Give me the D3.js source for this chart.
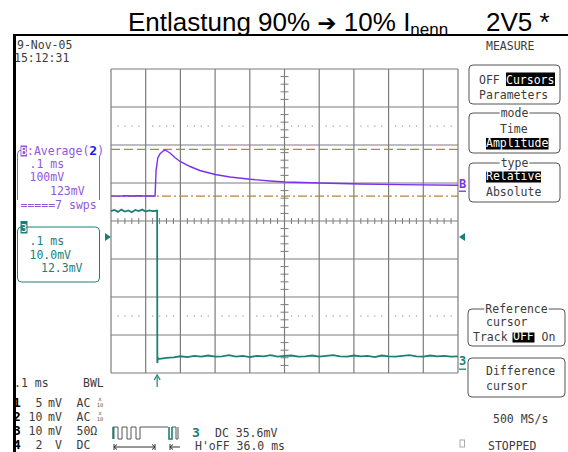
<!DOCTYPE html>
<html>
<head>
<meta charset="utf-8">
<script src="https://cdn.jsdelivr.net/npm/d3@7"></script>
<style>
body { margin: 0; background: #fff; }
text { white-space: pre; }
</style>
</head>
<body>
<div class="chart"></div>
<script>
// trace B (average of ch2), time in ms, level in mV (100 mV/div)
const purpleTime = [0, 0.02, 0.04, 0.06, 0.08, 0.10, 0.12, 0.127, 0.130, 0.135, 0.141, 0.150, 0.156,
  0.170, 0.184, 0.199, 0.228, 0.256, 0.300, 0.343, 0.401, 0.458, 0.501, 0.602, 0.718, 0.833, 1.0];
const purpleMv = [66, 65.4, 66.6, 65.8, 66.4, 65.6, 66.2, 66, 134, 165.8, 176.3, 184.2, 186.8,
  178.9, 167.1, 156.6, 143.4, 132.9, 122.4, 115.8, 109.7, 105.3, 102.6, 100, 97.4, 95.8, 93.9];

// channel 3, time in ms, level in mV (10 mV/div)
const tealTime = [0, 0.01, 0.02, 0.03, 0.04, 0.05, 0.06, 0.07, 0.08, 0.09, 0.10, 0.11, 0.12, 0.13, 0.133,
  0.1335, 0.135, 0.137, 0.14, 0.16, 0.18, 0.20, 0.22, 0.24, 0.26, 0.28, 0.30, 0.32, 0.34, 0.36, 0.38,
  0.40, 0.42, 0.44, 0.46, 0.48, 0.50, 0.52, 0.54, 0.56, 0.58, 0.60, 0.62, 0.64, 0.66, 0.68, 0.70,
  0.72, 0.74, 0.76, 0.78, 0.80, 0.82, 0.84, 0.86, 0.88, 0.90, 0.92, 0.94, 0.96, 0.98, 1.0];
const tealMv = [2.6, 2.9, 2.4, 3.0, 2.5, 2.8, 2.3, 2.9, 2.6, 3.0, 2.5, 2.8, 2.6, 2.7, 2.7,
  -37.4, -36.0, -36.3, -36.3, -36.0, -35.9, -35.6, -35.8, -35.5, -35.7, -35.4, -35.7, -35.6, -35.3, -35.7, -35.5,
  -35.8, -35.5, -35.6, -35.3, -35.7, -35.5, -35.4, -35.7, -35.6, -35.4, -35.7, -35.5, -35.3, -35.6, -35.7, -35.4,
  -35.6, -35.5, -35.8, -35.4, -35.6, -35.7, -35.5, -35.3, -35.6, -35.7, -35.4, -35.6, -35.5, -35.7, -35.6];

// cursor levels on trace B, mV
const cursorMv = [188.6, 65.2];

// menu and status labels
const menuTop = ['OFF', 'Cursors', 'Parameters'];
const modeItems = ['Time', 'Amplitude'];
const typeItems = ['Relative', 'Absolute'];
const chanRows = [
  ['1', ' 5', 'mV', 'AC'],
  ['2', '10', 'mV', 'AC'],
  ['3', '10', 'mV', '50Ω'],
  ['4', ' 2', ' V', 'DC']
];

const purple = '#7a30ec', purpleText = '#9258dc', teal = '#1d8077', brown = '#b8862c';
const grey = '#7c7c7c', ink = '#3c3c3c';
const mono = '"DejaVu Sans Mono", monospace';

let grid = { left: 111, right: 458, top: 69, bottom: 373 };

let svg = d3.select('.chart')
    .append('svg')
    .attr('width', 568)
    .attr('height', 452);

svg.append('rect').attr('width', 568).attr('height', 452).attr('fill', '#fff');

// scales: time and divisions
let x = d3.scaleLinear().domain([0, 1.0]).range([grid.left, grid.right]);
let xDiv = d3.scaleLinear().domain([0, 10]).range([grid.left, grid.right]);
let yDiv = d3.scaleLinear().domain([-4, 4]).range([grid.bottom, grid.top]);
let yB = d3.scaleLinear().domain([-400, 400]).range([grid.bottom, grid.top]);
let y3 = d3.scaleLinear().domain([-40, 40]).range([grid.bottom, grid.top]);

// Title
let title = svg.append('text')
    .attr('x', 128).attr('y', 31)
    .style('font-family', '"Liberation Sans", Arial, sans-serif')
    .style('font-size', '26px')
    .attr('fill', '#000');
title.append('tspan').text('Entlastung 90% ');
title.append('tspan').style('font-family', '"DejaVu Sans"').style('font-weight', 'bold').style('font-size', '23px').text('➔');
title.append('tspan').text(' 10% I');
title.append('tspan').attr('dy', 4).style('font-size', '17px').text('nenn');
svg.append('text')
    .attr('x', 486).attr('y', 31)
    .style('font-family', '"Liberation Sans", Arial, sans-serif')
    .style('font-size', '26px')
    .text('2V5 *');

// frame of the screen shot
svg.append('line').attr('x1', 13).attr('x2', 568).attr('y1', 35).attr('y2', 35)
    .attr('stroke', '#000').attr('stroke-width', 2);
svg.append('line').attr('x1', 14.5).attr('x2', 14.5).attr('y1', 34).attr('y2', 452)
    .attr('stroke', '#000').attr('stroke-width', 3);

// Grid
let g = svg.append('g');
g.selectAll('.vgrid').data(d3.range(0, 11)).enter().append('line')
    .attr('x1', d => xDiv(d)).attr('x2', d => xDiv(d))
    .attr('y1', grid.top).attr('y2', grid.bottom)
    .attr('stroke', grey).attr('stroke-width', 1.2);
g.selectAll('.hgrid').data(d3.range(-4, 5)).enter().append('line')
    .attr('x1', grid.left).attr('x2', grid.right)
    .attr('y1', d => yDiv(d)).attr('y2', d => yDiv(d))
    .attr('stroke', grey).attr('stroke-width', 1.2);

// minor ticks on the centre lines
g.selectAll('.xminor').data(d3.range(1, 50).filter(i => i % 5 !== 0)).enter().append('line')
    .attr('x1', d => xDiv(d / 5)).attr('x2', d => xDiv(d / 5))
    .attr('y1', yDiv(0) - 3).attr('y2', yDiv(0) + 3)
    .attr('stroke', grey);
g.selectAll('.yminor').data(d3.range(-19, 20).filter(i => i % 5 !== 0)).enter().append('line')
    .attr('x1', xDiv(5) - 4).attr('x2', xDiv(5) + 4)
    .attr('y1', d => yDiv(d / 5)).attr('y2', d => yDiv(d / 5))
    .attr('stroke', grey);

// dotted lines at +-2.5 div
[2.5, -2.5].forEach(lv => {
    g.selectAll(null).data(d3.range(1, 50).filter(i => i % 5 !== 0)).enter().append('rect')
        .attr('x', d => xDiv(d / 5) - 0.5).attr('y', yDiv(lv) - 0.5)
        .attr('width', 1.2).attr('height', 1.2)
        .attr('fill', '#9a9a9a');
});

// cursors
g.append('line').attr('x1', grid.left).attr('x2', grid.right)
    .attr('y1', yB(cursorMv[0])).attr('y2', yB(cursorMv[0]))
    .attr('stroke', brown).attr('stroke-width', 1.2).attr('stroke-dasharray', '9,4');
g.append('line').attr('x1', grid.left).attr('x2', grid.right)
    .attr('y1', yB(cursorMv[1])).attr('y2', yB(cursorMv[1]))
    .attr('stroke', brown).attr('stroke-width', 1.2).attr('stroke-dasharray', '9,3,2,3');

// traces
let lineB = d3.line().x((d, i) => x(purpleTime[i])).y(d => yB(d));
let line3 = d3.line().x((d, i) => x(tealTime[i])).y(d => y3(d));

g.append('path').datum(purpleMv).attr('d', lineB)
    .attr('fill', 'none').attr('stroke', purple).attr('stroke-width', 1.4);
g.append('path').datum(tealMv).attr('d', line3)
    .attr('fill', 'none').attr('stroke', teal).attr('stroke-width', 1.8);

// markers around the grid
svg.append('path')
    .attr('d', `M${grid.left - 6},${yDiv(-0.42) - 4}l6,4l-6,4z`)
    .attr('fill', teal);
svg.append('path')
    .attr('d', `M${grid.right + 7},${yDiv(-0.42) - 4}l-6,4l6,4z`)
    .attr('fill', teal);
svg.append('text').attr('x', grid.right + 1).attr('y', yB(cursorMv[1]) - 8)
    .style('font-family', mono).style('font-size', '12px').style('font-weight', 'bold')
    .attr('fill', purple).text('B');
svg.append('line').attr('x1', grid.right + 1).attr('x2', grid.right + 8)
    .attr('y1', yB(cursorMv[1]) - 5).attr('y2', yB(cursorMv[1]) - 5)
    .attr('stroke', purple).attr('stroke-width', 1.3);
svg.append('text').attr('x', grid.right + 1).attr('y', y3(-37.9))
    .style('font-family', mono).style('font-size', '12px').style('font-weight', 'bold')
    .attr('fill', teal).text('3');
svg.append('line').attr('x1', grid.right + 1).attr('x2', grid.right + 8)
    .attr('y1', y3(-39)).attr('y2', y3(-39))
    .attr('stroke', teal).attr('stroke-width', 1.3);

// trigger arrow
let trigX = x(tealTime[14]);
svg.append('line').attr('x1', trigX).attr('x2', trigX).attr('y1', 377).attr('y2', 387)
    .attr('stroke', teal).attr('stroke-width', 1.2);
svg.append('path').attr('d', `M${trigX - 3},${380}L${trigX},${375}L${trigX + 3},${380}`)
    .attr('fill', 'none').attr('stroke', teal).attr('stroke-width', 1.2);

// helper for scope text
function txt(xp, yp, s, color, opts) {
    let t = svg.append('text').attr('x', xp).attr('y', yp)
        .style('font-family', mono).style('font-size', (opts && opts.size) || '11.5px')
        .attr('fill', color || ink).text(s);
    if (opts && opts.bold) t.style('font-weight', 'bold');
    if (opts && opts.anchor) t.attr('text-anchor', opts.anchor);
    return t;
}
function inverse(x0, y0, w, h, s, tx) {
    svg.append('rect').attr('x', x0).attr('y', y0).attr('width', w).attr('height', h).attr('fill', '#000');
    txt(tx, y0 + h - 2.5, s, '#fff');
}
function menuBox(y0, y1, x0, x1, label) {
    svg.append('rect').attr('x', x0).attr('y', y0).attr('width', x1 - x0).attr('height', y1 - y0)
        .attr('rx', 4).attr('fill', 'none').attr('stroke', '#555').attr('stroke-width', 1);
    if (label) {
        let t = txt((x0 + x1) / 2, y0 + 4, label, ink, { anchor: 'middle' });
        let bb = t.node().getBBox();
        svg.insert('rect', () => t.node()).attr('x', bb.x - 1).attr('y', y0 - 1)
            .attr('width', bb.width + 2).attr('height', 3).attr('fill', '#fff');
    }
}

// date
txt(17, 49, '9-Nov-05');
txt(14, 62, '15:12:31');

// right menu
txt(486, 49.5, 'MEASURE');
menuBox(65, 104, 469, 560);
txt(479, 84, menuTop[0]);
inverse(506, 72.5, 49, 13.5, menuTop[1], 506);
txt(479, 98.5, menuTop[2]);

menuBox(113, 153, 469, 560, 'mode');
txt(500, 132.5, modeItems[0]);
inverse(486, 138, 62.5, 11.5, modeItems[1], 486);

menuBox(163, 202, 469, 560, 'type');
inverse(486, 171.5, 55, 11, typeItems[0], 486);
txt(486, 196, typeItems[1]);

menuBox(309, 346, 468, 565, 'Reference');
txt(486, 326, 'cursor');
txt(473, 341, 'Track');
inverse(512.5, 332.5, 22, 10, 'OFF', 513);
txt(541.5, 341, 'On');

menuBox(358, 397, 468, 565);
txt(486, 375, 'Difference');
txt(486, 390, 'cursor');

txt(493, 422.5, '500 MS/s');
svg.append('rect').attr('x', 460).attr('y', 440).attr('width', 4.5).attr('height', 7)
    .attr('fill', 'none').attr('stroke', '#aaa');
txt(488, 449.5, 'STOPPED');

// trace B box
svg.append('rect').attr('x', 17.5).attr('y', 150).attr('width', 82).attr('height', 55)
    .attr('rx', 4).attr('fill', 'none').attr('stroke', purpleText).attr('stroke-width', 1);
svg.append('rect').attr('x', 24).attr('y', 146).attr('width', 82).attr('height', 10).attr('fill', '#fff');
svg.append('rect').attr('x', 17).attr('y', 200).attr('width', 84).attr('height', 10).attr('fill', '#fff');
svg.append('rect').attr('x', 20.5).attr('y', 145.5).attr('width', 6.5).attr('height', 11)
    .attr('fill', purpleText);
txt(20.5, 155, 'B', '#fff', { size: '11px' });
let bt = txt(27, 155, ':Average(', purpleText);
bt.append('tspan').attr('fill', '#1c1ce0').style('font-weight', 'bold').style('font-size', '13px').text('2');
bt.append('tspan').text(')');
txt(29.5, 167.5, '.1 ms', purpleText);
txt(29.5, 181, '100mV', purpleText);
txt(50, 194.5, '123mV', purpleText);
txt(20.5, 208.5, '=====7 swps', purpleText);

// channel 3 box
svg.append('rect').attr('x', 17.5).attr('y', 227).attr('width', 82).attr('height', 55)
    .attr('rx', 4).attr('fill', 'none').attr('stroke', teal).attr('stroke-width', 1);
svg.append('rect').attr('x', 20.5).attr('y', 221).attr('width', 7).attr('height', 12.5)
    .attr('fill', teal);
txt(20.8, 231.5, '3', '#fff', { size: '11px' });
txt(29.5, 244.5, '.1 ms', teal);
txt(29.5, 258.5, '10.0mV', teal);
txt(41, 272, '12.3mV', teal);

// bottom status
txt(14, 387, '.1 ms');
txt(83, 387, 'BWL');
chanRows.forEach((r, i) => {
    let yy = 406.5 + i * 14.2;
    txt(13, yy, r[0], '#000', { bold: true, size: '13px' });
    txt(28.5, yy, r[1]);
    txt(48, yy, r[2]);
    txt(76.5, yy, r[3]);
    if (i < 2) {
        txt(100, yy - 6, 'x', '#666', { size: '6px', anchor: 'middle' });
        txt(100, yy, '10', '#666', { size: '5.5px', anchor: 'middle' });
    }
});

// pulse train symbol
let pulse = 'M113,439V427H118V439H122V427H127V439H131V427H136V439H140V427H168';
svg.append('path').attr('d', pulse).attr('fill', 'none').attr('stroke', '#555').attr('stroke-width', 1);
svg.append('path').attr('d', 'M113.5,439V427').attr('stroke', teal).attr('stroke-width', 2);
svg.append('path').attr('d', 'M169,427V439H172V427').attr('fill', 'none').attr('stroke', teal).attr('stroke-width', 1.6);
svg.append('path').attr('d', 'M172,427H176V439H178V427').attr('fill', 'none').attr('stroke', '#555').attr('stroke-width', 1);
svg.append('path')
    .attr('d', 'M114,444V450M155,444V450M114,447H155M117,444.5L114,447L117,449.5M152,444.5L155,447L152,449.5' +
        'M170,444V450M170,447H180M173,444.5L170,447L173,449.5')
    .attr('fill', 'none').attr('stroke', '#333').attr('stroke-width', 1);
txt(192, 436.5, '3', teal, { bold: true, size: '13px' });
txt(215, 436.5, 'DC 35.6mV');
txt(195, 450, "H'oFF 36.0 ms");
</script>
</body>
</html>
